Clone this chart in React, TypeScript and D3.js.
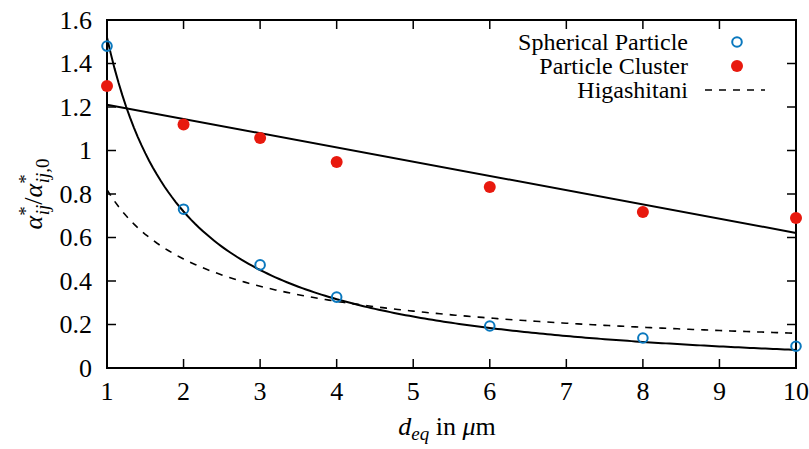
import React from "react";
import * as d3 from "d3";

const dEq = [1, 2, 3, 4, 6, 8, 10];
const spherical = [1.48, 0.73, 0.474, 0.326, 0.193, 0.138, 0.1];
const cluster = [1.297, 1.12, 1.057, 0.947, 0.832, 0.717, 0.69];
// fit parameters
const sphereFit = [1.52, 0.972, 0.074]; // a * x^-b * exp(-c (x-1))
const clusterFit = [1.276, -0.0655]; // a + b x
const higashitaniFit = [0.82, -0.71]; // a * x^b
const xTicks = [1, 2, 3, 4, 5, 6, 7, 8, 9, 10];
const yTicks = [0, 0.2, 0.4, 0.6, 0.8, 1, 1.2, 1.4, 1.6];
const legendLabels = ["Spherical Particle", "Particle Cluster", "Higashitani"];

const W = 809, H = 449;
const L = 107, R = 796, T = 20, B = 368;
const BLUE = "#0a78be";
const RED = "#e8190e";

export default function App() {
  const x = d3.scaleLinear().domain([1, 10]).range([L, R]);
  const y = d3.scaleLinear().domain([0, 1.6]).range([B, T]);
  const xs = d3.range(1, 10.0001, 0.05);
  const line = d3.line<[number, number]>().x(d => x(d[0])).y(d => y(d[1]));
  const sph = xs.map(v => [v, sphereFit[0] * Math.pow(v, -sphereFit[1]) * Math.exp(-sphereFit[2] * (v - 1))] as [number, number]);
  const clu = [1, 10].map(v => [v, clusterFit[0] + clusterFit[1] * v] as [number, number]);
  const hig = xs.map(v => [v, higashitaniFit[0] * Math.pow(v, higashitaniFit[1])] as [number, number]);
  const tl = 9;
  const fs = 26;
  const ts = { fontFamily: "\"Liberation Serif\"" };
  return (
    <svg width={W} height={H} style={{ position: "absolute", left: 0, top: 0 }}>
      <rect width={W} height={H} fill="white" />
      {/* ticks */}
      {xTicks.map(t => (
        <g key={"x" + t}>
          <line x1={x(t)} x2={x(t)} y1={B} y2={B - tl} stroke="black" strokeWidth={1.5} />
          <line x1={x(t)} x2={x(t)} y1={T} y2={T + tl} stroke="black" strokeWidth={1.5} />
          <text style={ts} x={x(t)} y={400} textAnchor="middle" fontSize={fs}>{String(t)}</text>
        </g>
      ))}
      {yTicks.map(t => (
        <g key={"y" + t}>
          <line x1={L} x2={L + tl} y1={y(t)} y2={y(t)} stroke="black" strokeWidth={1.5} />
          <line x1={R} x2={R - tl} y1={y(t)} y2={y(t)} stroke="black" strokeWidth={1.5} />
          <text style={ts} x={92} y={y(t) + 8.5} textAnchor="end" fontSize={fs}>{d3.format("~g")(t)}</text>
        </g>
      ))}
      {/* curves */}
      <path d={line(hig) || ""} fill="none" stroke="black" strokeWidth={1.6} strokeDasharray="7,7" />
      <path d={line(sph) || ""} fill="none" stroke="black" strokeWidth={2} />
      <path d={line(clu) || ""} fill="none" stroke="black" strokeWidth={2} />
      {/* frame */}
      <rect x={L} y={T} width={R - L} height={B - T} fill="none" stroke="black" strokeWidth={2} />
      {/* points */}
      {dEq.map((d, i) => (
        <circle key={"s" + i} cx={x(d)} cy={y(spherical[i])} r={4.8} fill="none" stroke={BLUE} strokeWidth={2} />
      ))}
      {dEq.map((d, i) => (
        <circle key={"c" + i} cx={x(d)} cy={y(cluster[i])} r={6} fill={RED} />
      ))}
      {/* legend */}
      {legendLabels.map((lab, i) => (
        <text style={ts} key={lab} x={688} y={50 + i * 24} textAnchor="end" fontSize={24}>{lab}</text>
      ))}
      <circle cx={737} cy={42} r={4.8} fill="none" stroke={BLUE} strokeWidth={2} />
      <circle cx={737} cy={66} r={6} fill={RED} />
      <line x1={705} x2={765} y1={90} y2={90} stroke="black" strokeWidth={1.6} strokeDasharray="7,7" />
      {/* axis labels */}
      <text style={ts} x={447} y={435} textAnchor="middle" fontSize={fs}>
        <tspan fontStyle="italic">d</tspan>
        <tspan fontStyle="italic" fontSize={19} dy={5}>eq</tspan>
        <tspan dy={-5}> in </tspan>
        <tspan fontStyle="italic">μ</tspan>
        <tspan>m</tspan>
      </text>
      <text style={ts} transform="translate(42,194) rotate(-90)" textAnchor="middle" fontSize={fs}>
        <tspan fontStyle="italic">α</tspan>
        <tspan fontSize={19} dy={-10}>*</tspan>
        <tspan fontSize={19} fontStyle="italic" dx={-9} dy={17}>ij</tspan>
        <tspan dy={-7}>/</tspan>
        <tspan fontStyle="italic">α</tspan>
        <tspan fontSize={19} dy={-10}>*</tspan>
        <tspan fontSize={19} fontStyle="italic" dx={-9} dy={17}>ij,</tspan>
        <tspan fontSize={19} dy={0}>0</tspan>
      </text>
    </svg>
  );
}
